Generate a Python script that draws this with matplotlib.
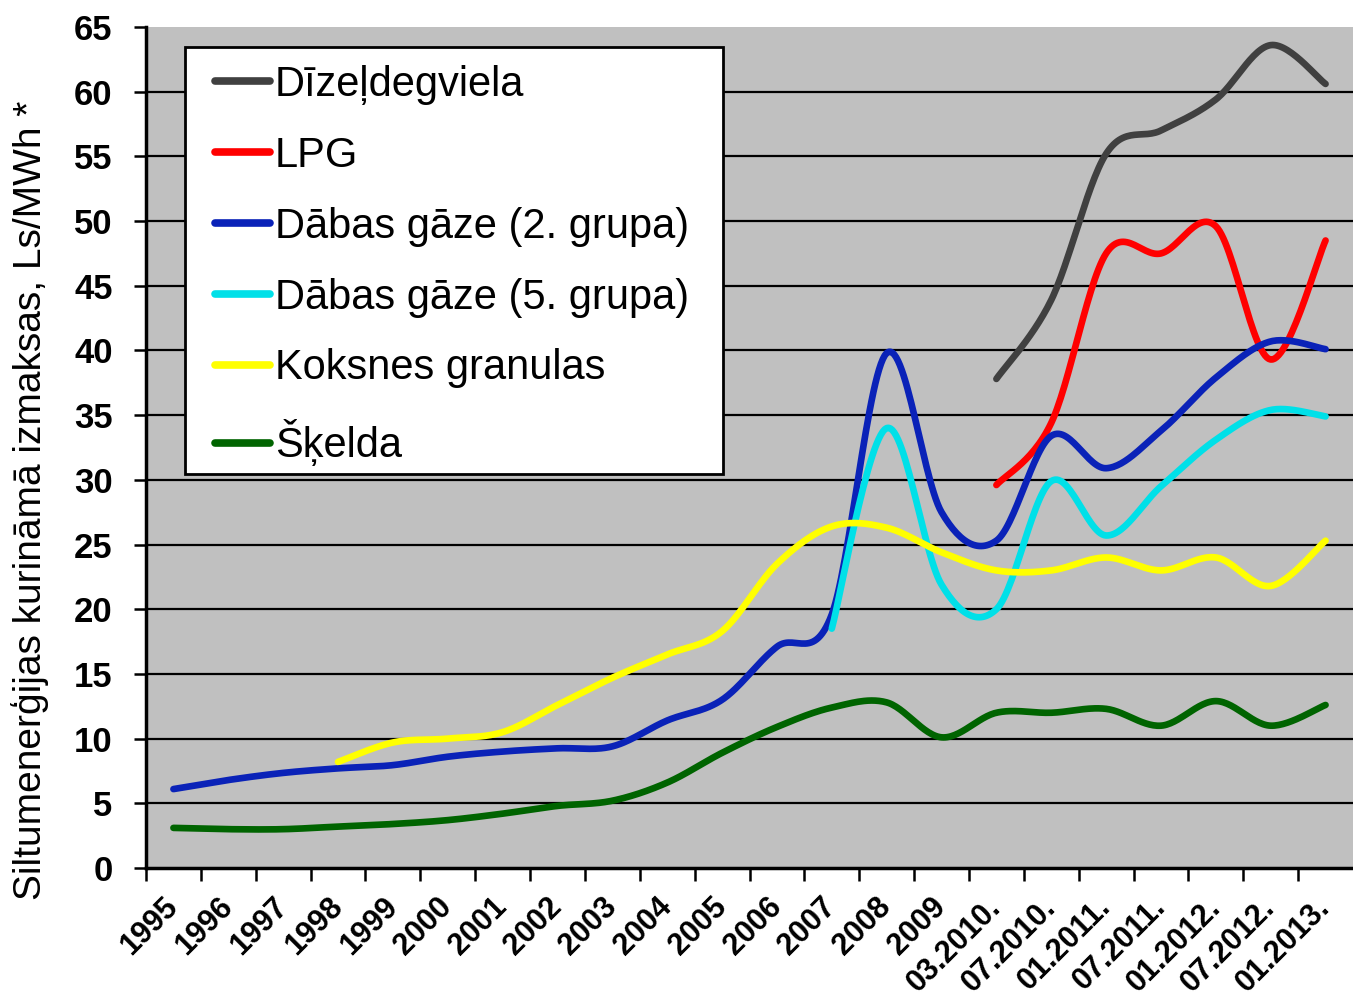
import numpy as np
import matplotlib
matplotlib.use("Agg")
import matplotlib.pyplot as plt
from matplotlib.patches import Rectangle

categories = ['1995', '1996', '1997', '1998', '1999', '2000', '2001', '2002', '2003',
              '2004', '2005', '2006', '2007', '2008', '2009', '03.2010.', '07.2010.',
              '01.2011.', '07.2011.', '01.2012.', '07.2012.', '01.2013.']

diesel = [None] * 15 + [37.8, 43.9, 55.2, 57.0, 59.4, 63.6, 60.6]
lpg = [None] * 15 + [29.6, 34.4, 47.5, 47.5, 49.6, 39.3, 48.5]
gas_g2 = [6.1, 6.8, 7.35, 7.7, 7.95, 8.6, 9.0, 9.25, 9.4, 11.4, 13.0, 17.1, 19.6,
          39.8, 27.5, 25.3, 33.4, 30.9, 33.8, 37.9, 40.7, 40.1]
gas_g5 = [None] * 12 + [18.5, 34.0, 21.9, 20.0, 29.9, 25.7, 29.5, 33.1, 35.4, 34.9]
pellets = [None] * 3 + [8.2, 9.7, 10.0, 10.5, 12.6, 14.7, 16.5, 18.3, 23.5, 26.4,
                        26.3, 24.4, 23.0, 23.0, 24.0, 23.0, 24.0, 21.8, 25.3]
chips = [3.1, 3.0, 3.0, 3.2, 3.4, 3.7, 4.2, 4.8, 5.2, 6.6, 8.9, 10.9, 12.4, 12.8,
         10.1, 12.0, 12.0, 12.3, 11.0, 12.9, 11.0, 12.6]

series_labels = ['Dīzeļdegviela', 'LPG', 'Dābas gāze (2. grupa)',
                 'Dābas gāze (5. grupa)', 'Koksnes granulas', 'Šķelda']
series_values = [diesel, lpg, gas_g2, gas_g5, pellets, chips]
series_colors = ['#404040', '#FF0000', '#0A22B8', '#00E0E8', '#FFFF00', '#006400']

y_ticks = list(range(0, 70, 5))

plt.rcParams['font.family'] = ['Liberation Sans', 'DejaVu Sans']


def excel_smooth(xs, ys, n=30):
    pts = np.array([(x, y) for x, y in zip(xs, ys) if y is not None], dtype=float)
    out = []
    m = len(pts)
    t = np.linspace(0, 1, n)[:, None]
    for i in range(m - 1):
        p0 = pts[i - 1] if i > 0 else pts[i]
        p1 = pts[i]
        p2 = pts[i + 1]
        p3 = pts[i + 2] if i + 2 < m else pts[i + 1]
        c1 = p1 + (p2 - p0) / 6.0
        c2 = p2 - (p3 - p1) / 6.0
        b = ((1 - t) ** 3) * p1 + 3 * ((1 - t) ** 2) * t * c1 + 3 * (1 - t) * t ** 2 * c2 + t ** 3 * p2
        out.append(b if i == 0 else b[1:])
    out = np.vstack(out)
    return out[:, 0], out[:, 1]


W, H = 1353, 1005
fig = plt.figure(figsize=(W / 100, H / 100), dpi=100)
ax = fig.add_axes([146 / W, 1 - 868 / H, (W - 146) / W, (868 - 27) / H])
ax.set_facecolor('#C0C0C0')

x = np.arange(len(categories))
for lab, vals, col in zip(series_labels, series_values, series_colors):
    sx, sy = excel_smooth(x, vals)
    ax.plot(sx, sy, color=col, lw=4.8, solid_capstyle='round', label=lab, zorder=3)

ax.set_xlim(-0.5, len(categories) - 0.5)
ax.set_ylim(0, 65)

for yv in y_ticks:
    if 0 < yv < 65:
        ax.axhline(yv, color='black', lw=1.6, zorder=1)

ax.set_yticks(y_ticks)
ax.set_yticklabels([str(v) for v in y_ticks], fontsize=25, fontweight='bold')
ax.set_xticks(np.arange(len(categories)) - 0.5)
ax.set_xticklabels([])
ax.set_xticks(x, minor=True)
ax.set_xticklabels(categories, minor=True, rotation=45, ha='right', va='center',
                   rotation_mode='anchor', fontsize=22, fontweight='bold')
ax.tick_params(axis='x', which='minor', length=0, pad=25)
ax.tick_params(axis='x', which='major', length=9, width=1.8, direction='out', color='black')
ax.tick_params(axis='y', length=9, width=1.8, direction='out', pad=15, color='black')

for s in ['top', 'right']:
    ax.spines[s].set_visible(False)
for s in ['left', 'bottom']:
    ax.spines[s].set_linewidth(2.5)
    ax.spines[s].set_color('black')

fig.text(30 / W, 1 - 500 / H, 'Siltumenerģijas kurināmā izmaksas, Ls/MWh *', rotation=90,
         ha='center', va='center', fontsize=28)

# legend frame box
frame = Rectangle((185 / W, 1 - 474 / H), (723 - 185) / W, (474 - 47) / H,
                  transform=fig.transFigure, facecolor='white', edgecolor='black',
                  lw=2, zorder=4.5, clip_on=False)
ax.add_patch(frame)

leg = ax.legend(loc='upper left', bbox_to_anchor=(215 / W, 1 - 65 / H),
                bbox_transform=fig.transFigure, borderaxespad=0, borderpad=0,
                fontsize=30, frameon=False,
                handlelength=1.32, handletextpad=0.12, labelspacing=0.74)
leg.set_zorder(5)
for h in leg.get_lines():
    h.set_linewidth(5.5)
    h.set_solid_capstyle('round')

fig.savefig('out.png', dpi=100)
